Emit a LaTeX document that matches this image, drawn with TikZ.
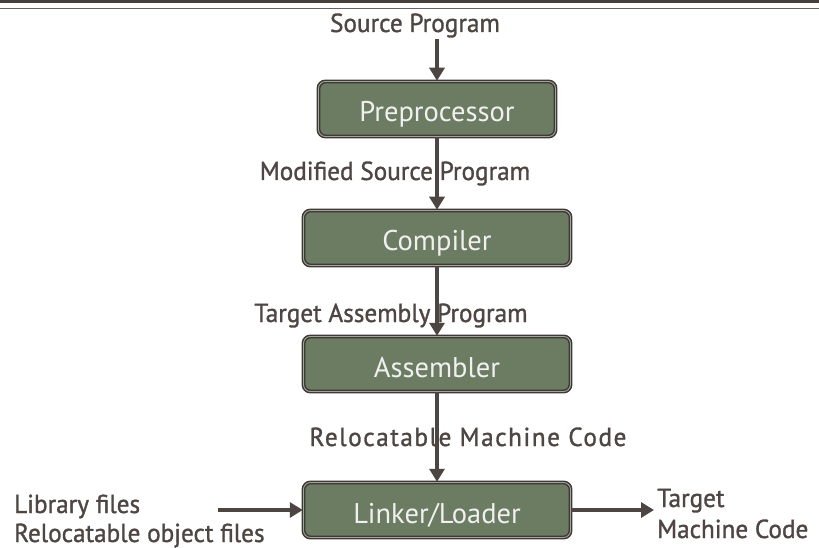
\documentclass[tikz,border=0pt]{standalone}
\usepackage{fontspec}
\setmainfont{PT Sans}[FakeStretch=0.97,FakeBold=1.2]
\newfontfamily\boxfont{PT Sans}
\usetikzlibrary{arrows.meta}
\definecolor{txt}{RGB}{78,70,67}
\definecolor{arr}{RGB}{77,69,66}
\definecolor{boxfill}{RGB}{108,124,98}
\definecolor{boxedge}{RGB}{62,56,54}
\definecolor{boxinner}{RGB}{160,165,150}
\tikzset{
  x=1pt, y=-1pt,
  stage/.style={draw=boxedge, double=boxinner, double distance=0.9pt, line width=1.5pt,
    fill=boxfill, rounded corners=7pt, minimum height=55pt, inner sep=0pt,
    text height=26pt, text depth=0pt,
    text=white!94!black, font=\boxfont\fontsize{28.5}{31}\selectfont},
  lbl/.style={text=txt, font=\fontsize{26}{30}\selectfont, inner sep=0pt},
  flow/.style={draw=arr, line width=3.8pt, -{Triangle[width=15pt,length=13pt]}},
}
\begin{document}
\begin{tikzpicture}
\useasboundingbox (0,0) rectangle (819,548);
\fill[white] (0,0) rectangle (819,548);
\draw[line width=2.6pt, draw=txt!90!black] (0,1.3) -- (819,1.3);
\draw[line width=1.3pt, draw=txt!85!white] (0,8.5) -- (819,8.5);

\node[stage, minimum width=237pt] (pre) at (437,109) {Preprocessor};
\node[stage, minimum width=267pt] (comp) at (437,238) {Compiler};
\node[stage, minimum width=267pt] (asm) at (437,364) {Assembler};
\node[stage, minimum width=267pt] (link) at (437,510) {Linker/Loader};

\node[lbl, anchor=base] (src) at (415,32) {Source Program};
\node[lbl, anchor=base] (mod) at (395,180) {Modified Source Program};
\node[lbl, anchor=base] (tap) at (391,322) {Target Assembly Program};
\node[lbl, anchor=base] (rmc) at (468,446) {\addfontfeature{LetterSpace=6}Relocatable Machine Code};
\node[lbl, anchor=base west] (lib) at (14,513) {Library files};
\node[lbl, anchor=base west] (rel) at (14,542) {Relocatable object files};
\node[lbl, anchor=base west] (tgt) at (657,507) {Target};
\node[lbl, anchor=base west] (tmc) at (657,538) {Machine Code};

\coordinate (srcend) at (437,39);
\coordinate (libend) at (218,510);
\coordinate (outend) at (654,510);
\draw[flow] (srcend) -- (pre.north);
\draw[flow] (pre.south) -- (comp.north);
\draw[flow] (comp.south) -- (asm.north);
\draw[flow] (asm.south) -- (link.north);
\draw[flow] (libend) -- (link.west);
\draw[flow] (link.east) -- (outend);
\end{tikzpicture}
\end{document}
